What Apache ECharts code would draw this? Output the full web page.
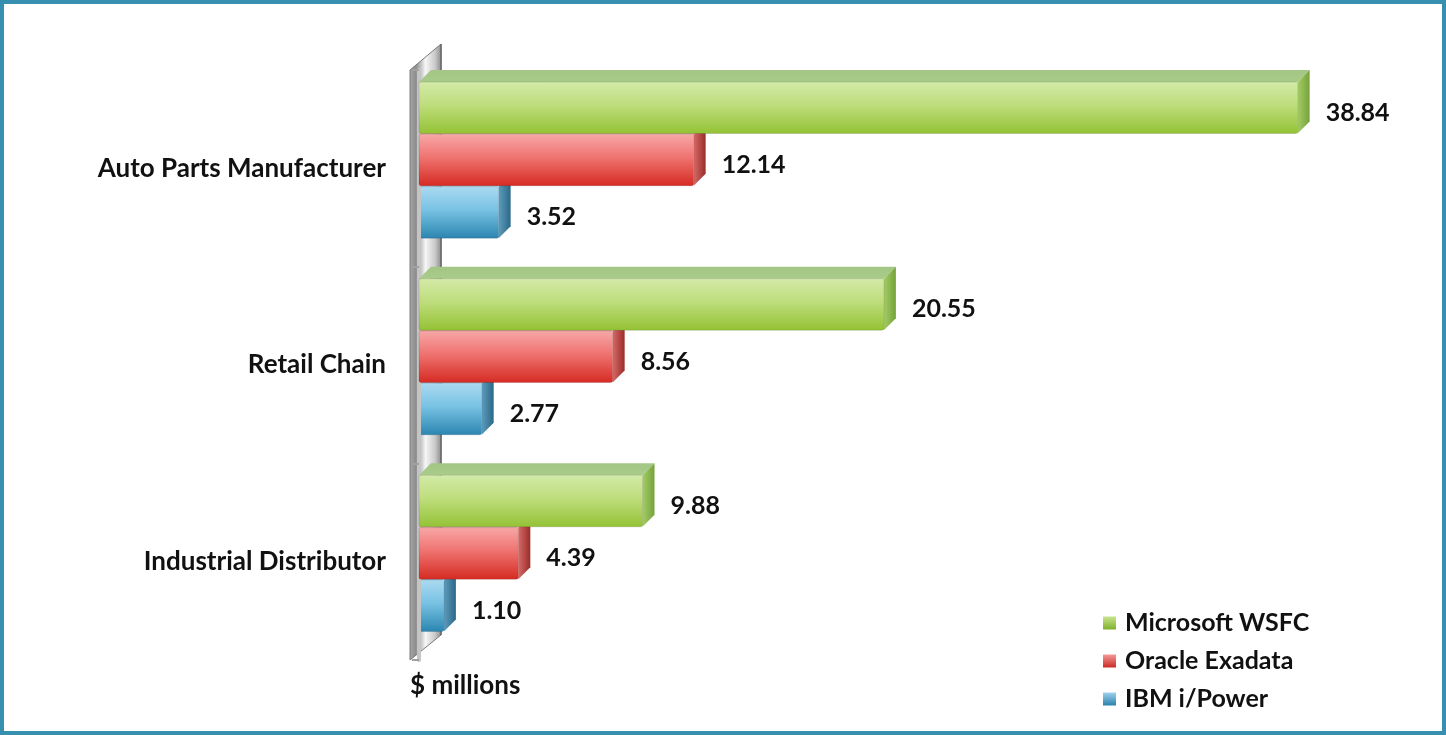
<!DOCTYPE html>
<html><head><meta charset="utf-8">
<script src="https://cdn.jsdelivr.net/npm/echarts@6/dist/echarts.min.js"></script>
<style>
html,body{margin:0;padding:0;background:#fff;}
#chart{position:absolute;left:0;top:0;width:1446px;height:735px;}
#frame{position:absolute;left:0;top:0;width:1446px;height:735px;box-sizing:border-box;border:4px solid #3890b1;pointer-events:none;}
</style></head>
<body>
<div id="chart"></div><div id="frame"></div>
<script>
const categories = ['Auto Parts Manufacturer', 'Retail Chain', 'Industrial Distributor'];
const seriesNames = ['Microsoft WSFC', 'Oracle Exadata', 'IBM i/Power'];
const microsoftWSFC = [38.84, 20.55, 9.88];
const oracleExadata = [12.14, 8.56, 4.39];
const ibmPower = [3.52, 2.77, 1.10];
const axisName = '$ millions';

const FONT = 'Lato, "Open Sans", sans-serif';
function lg(x1,y1,x2,y2,stops){return new echarts.graphic.LinearGradient(x1,y1,x2,y2,stops.map((c,i)=>({offset:c[0],color:c[1]})));}

const palettes = [
  { front: [[0,'#d3eaa8'],[0.45,'#bedd7c'],[1,'#93c234']], top: [[0,'#a3c585'],[1,'#a9cc8a']], side: [[0,'#a4cc66'],[1,'#75a23a']], legend: [[0,'#c8e58e'],[1,'#7fb02c']] },
  { front: [[0,'#f7a8a8'],[0.45,'#ef7370'],[1,'#d52a22']], top: [[0,'#e59a98'],[1,'#e8a3a1']], side: [[0,'#d56a68'],[1,'#9a2c28']], legend: [[0,'#f29a98'],[1,'#cc2a24']] },
  { front: [[0,'#acdaf1'],[0.45,'#78c2e3'],[1,'#2a85b0']], top: [[0,'#8ebcd4'],[1,'#9ac6dc']], side: [[0,'#5f9cbc'],[1,'#2a6888']], legend: [[0,'#9fd3ee'],[1,'#2a80aa']] }
];

function makeRender(k){
  const pal = palettes[k];
  return function(params, api){
    const v = api.value(0), ci = api.value(1);
    const p0 = api.coord([0, ci]);
    const p1 = api.coord([v, ci]);
    const band = api.size([0, 1])[1];
    const h = band * 0.262;
    const top = p0[1] - band * 0.439 + k * band * 0.266;
    const bot = top + h;
    const x0 = p0[0], x1 = p1[0], d = 12;
    return {
      type: 'group',
      children: [
        { type: 'polygon', shape: { points: [[x0, top], [x0 + d, top - d], [x1 + d, top - d], [x1, top]] },
          style: { fill: lg(0,0,0,1,pal.top) } },
        { type: 'polygon', shape: { points: [[x1, top], [x1 + d, top - d], [x1 + d, bot - d], [x1, bot]] },
          style: { fill: lg(0,0,1,0,pal.side) } },
        { type: 'rect', shape: { x: x0, y: top, width: x1 - x0, height: h, r: 2 },
          style: { fill: lg(0,0,0,1,pal.front), stroke: 'rgba(0,0,0,0.12)', lineWidth: 1 } },
        { type: 'text', style: { text: v.toFixed(2), x: x1 + 28, y: (top + bot) / 2 + 5, verticalAlign: 'middle', align: 'left',
          font: 'bold 25px ' + FONT, fill: '#111' } }
      ]
    };
  };
}

function wallRender(params, api){
  const cs = params.coordSys;
  const fx = cs.x - 9, bx = cs.x + 22;
  const t = cs.y, b = cs.y + cs.height;
  return {
    type: 'group',
    children: [
      { type: 'polygon', shape: { points: [[fx, t], [bx, t - 26], [bx, b - 25], [fx, b]] },
        style: { fill: lg(0,0,1,0,[[0,'#a8a8a8'],[0.2,'#8c8c8c'],[0.5,'#f6f6f6'],[0.8,'#c9c9c9'],[1,'#8a8a8a']]), stroke: '#7a7a7a', lineWidth: 1 } },
      { type: 'line', shape: { x1: bx, y1: t - 26, x2: bx, y2: b - 25 }, style: { stroke: '#6a6a6a', lineWidth: 1.5 } }
    ]
  };
}

const datasets = [microsoftWSFC, oracleExadata, ibmPower];
const series = [{
  type: 'custom', name: 'wall', silent: true, z: 1, clip: false,
  data: [[0, 0]], renderItem: wallRender
}];
datasets.forEach((arr, k) => {
  series.push({
    type: 'custom', name: seriesNames[k], z: 5 - k, clip: false,
    encode: { x: 0, y: 1 },
    itemStyle: { color: lg(0,0,0,1,palettes[k].legend) },
    data: arr.map((v, i) => [v, i]),
    renderItem: makeRender(k)
  });
});

const chart = echarts.init(document.getElementById('chart'), null, { renderer: 'canvas' });
chart.setOption({
  animation: false,
  backgroundColor: '#ffffff',
  grid: { left: 419, top: 70, height: 590, width: 1018 },
  xAxis: { type: 'value', min: 0, max: 45, show: false },
  yAxis: {
    type: 'category', data: categories, inverse: true, offset: 8,
    z: 3,
    axisLine: { show: true, lineStyle: { color: '#c4c4c4', width: 4 } },
    axisTick: { show: true, length: 7, lineStyle: { color: '#a0a0a0', width: 2 } },
    axisLabel: { margin: 25, color: '#111', fontWeight: 'bold', fontSize: 26, fontFamily: FONT }
  },
  legend: {
    data: seriesNames, orient: 'vertical', left: 1098, top: 605,
    itemWidth: 13, itemHeight: 13, itemGap: 12, icon: 'rect',
    textStyle: { color: '#111', fontWeight: 'bold', fontSize: 25, fontFamily: FONT, lineHeight: 26, padding: [0,0,0,4] },
    selectedMode: false
  },
  graphic: [{ type: 'text', left: 410, top: 673, style: { text: axisName, font: 'bold 26px ' + FONT, fill: '#111' } }],
  series: series
});
</script>
</body></html>
